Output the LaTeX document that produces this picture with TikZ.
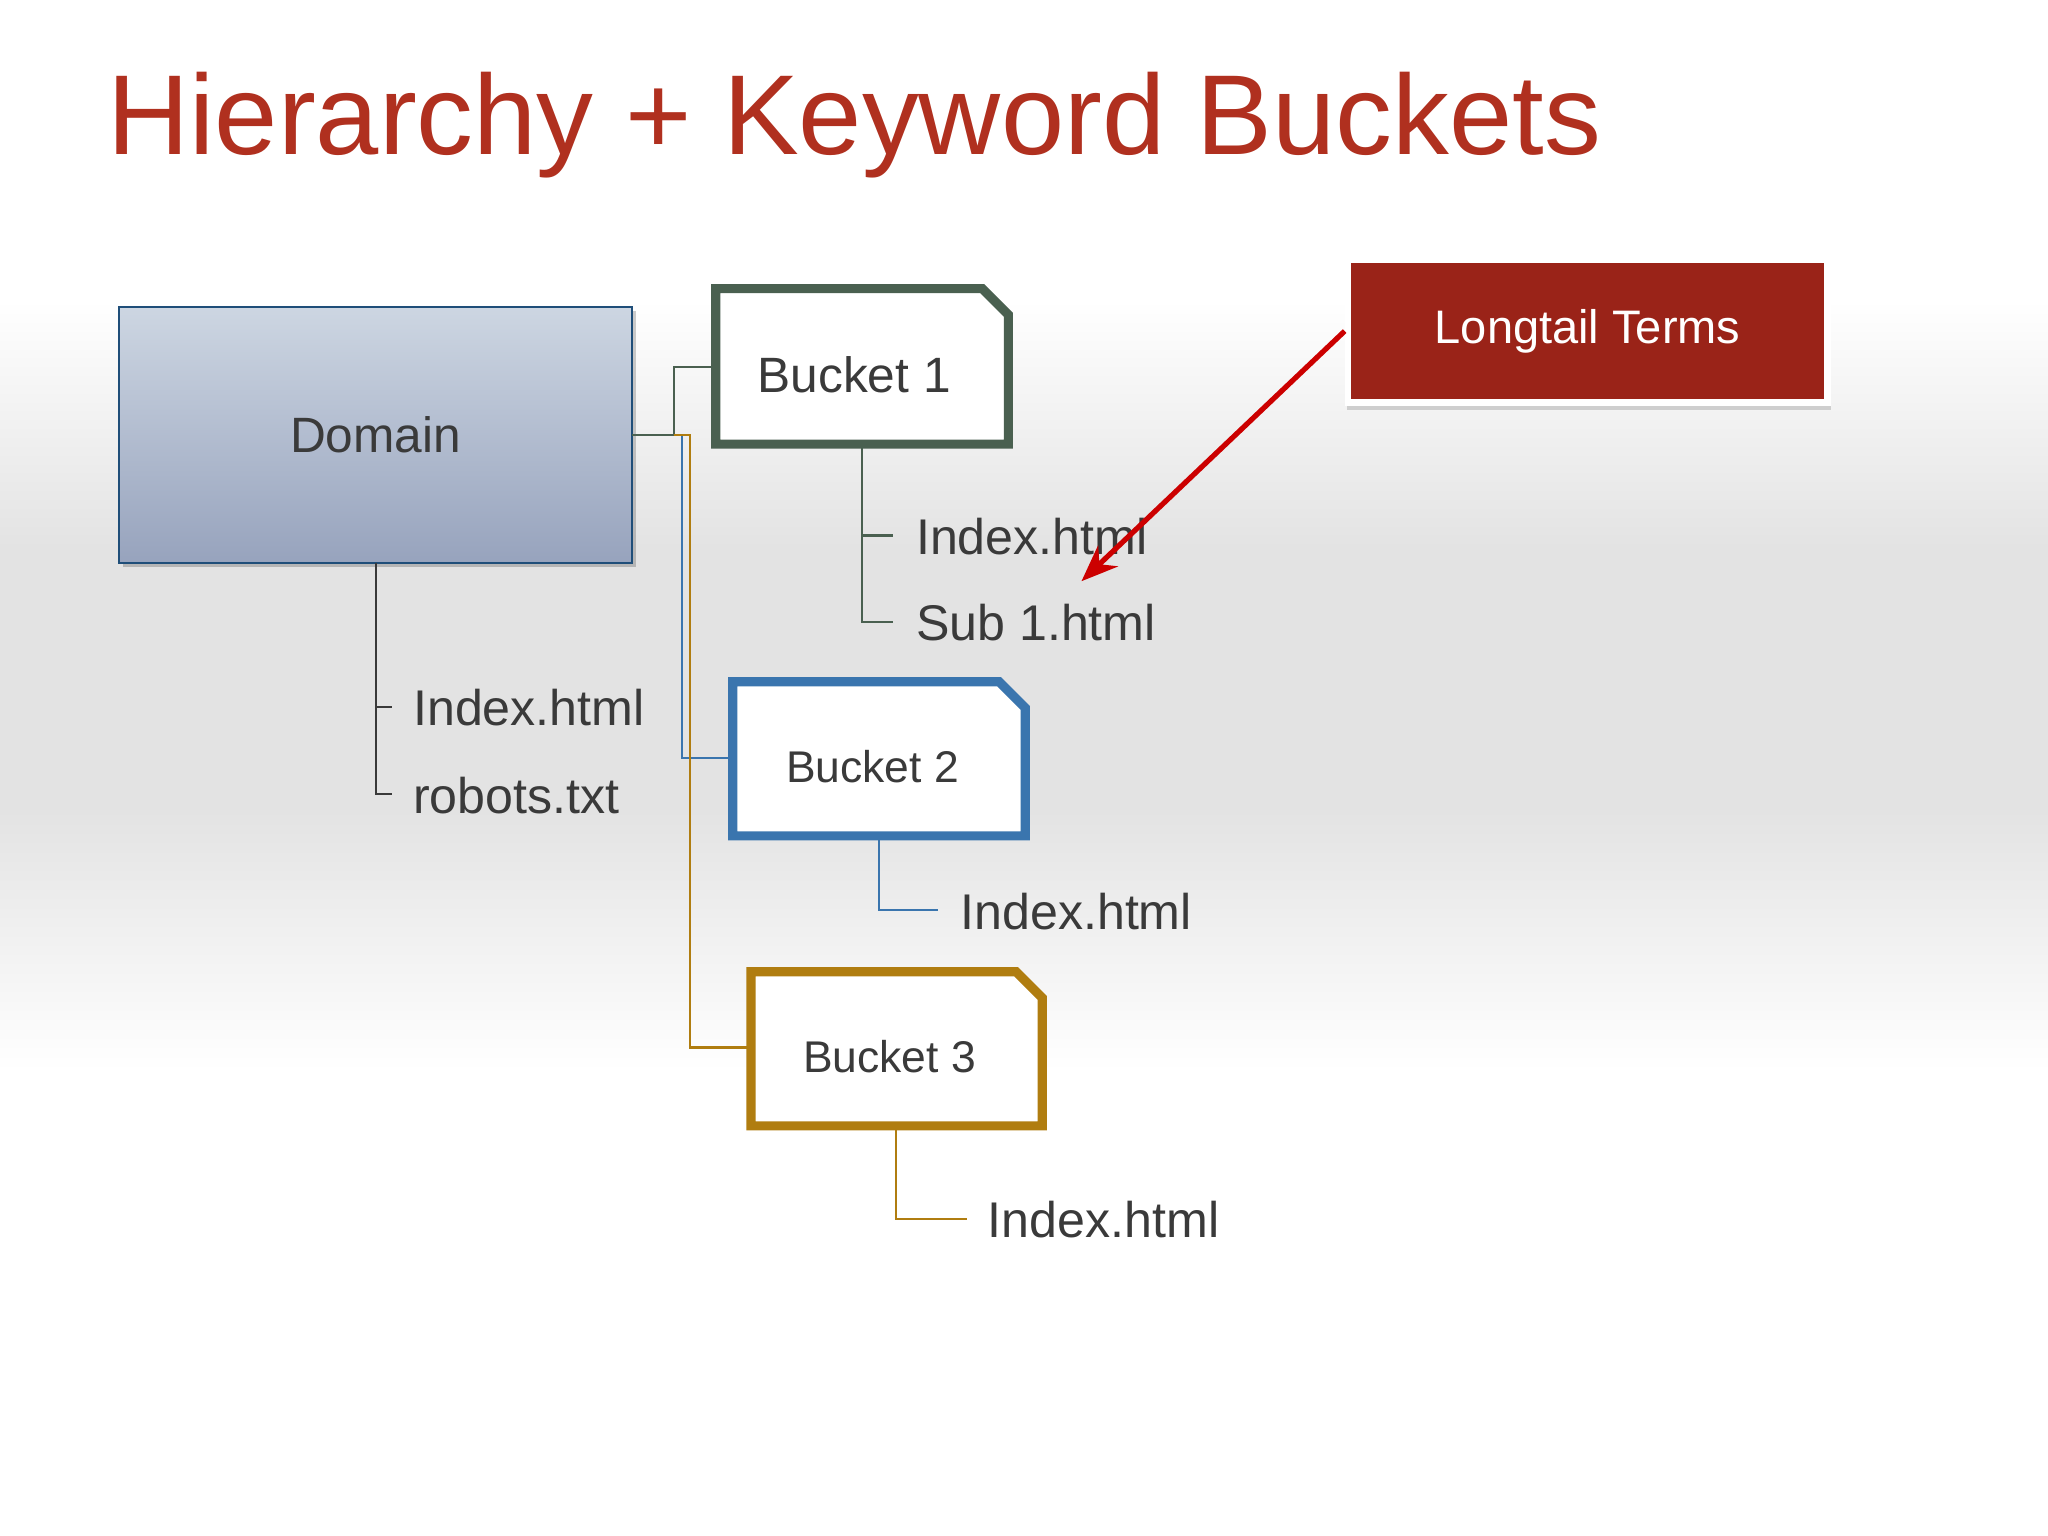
\documentclass[tikz,border=0pt]{standalone}
\usepackage{fontspec}
\setmainfont{Liberation Sans}
\usetikzlibrary{arrows.meta,shadows}
\definecolor{titred}{HTML}{B0301F}
\definecolor{txt}{HTML}{3A3A3A}
\definecolor{gB}{HTML}{4A6050}
\definecolor{bB}{HTML}{3A75AE}
\definecolor{oB}{HTML}{B07D10}
\definecolor{dblue}{HTML}{1F4E79}
\definecolor{lred}{HTML}{9A2318}
\definecolor{domtop}{HTML}{CDD6E2}
\definecolor{dombot}{HTML}{97A3BD}
\begin{document}
\begin{tikzpicture}[x=0.5pt,y=-0.5pt,
  lbl/.style={anchor=west,text=txt,font=\fontsize{19.2}{22}\selectfont,inner sep=0},
  bkt/.style={line width=3.5pt,fill=white},
  btxt/.style={text=txt,font=\fontsize{17}{20}\selectfont}]
\useasboundingbox (0,0) rectangle (1568,1176);
\shade[top color=white,bottom color=black!11] (0,230) rectangle (1568,420);
\fill[black!11] (0,420) rectangle (1568,620);
\shade[top color=black!11,bottom color=white] (0,620) rectangle (1568,820);
\node[anchor=base west,text=titred,font=\fontsize{43.5}{50}\selectfont,inner sep=0] (title) at (82,118) {Hierarchy + Keyword Buckets};
% Domain
\fill[black,opacity=0.2] (94,238) rectangle (487,434);
\shade[top color=domtop,bottom color=dombot] (91,235) rectangle (484,431);
\draw[dblue,line width=1pt] (91,235) rectangle (484,431);
\node[btxt,font=\fontsize{19}{22}\selectfont] (dom) at (287.5,333) {Domain};
\coordinate (dR) at (484,333);
\coordinate (dB) at (288,431);
% buckets
\draw[bkt,draw=gB] (548,221) -- (752,221) -- (772,241) -- (772,340) -- (548,340) -- cycle;
\node[btxt,font=\fontsize{19}{22}\selectfont] (b1) at (654,287) {Bucket 1};
\draw[bkt,draw=bB] (561,522) -- (765,522) -- (785,542) -- (785,640) -- (561,640) -- cycle;
\node[btxt] (b2) at (668,587) {Bucket 2};
\draw[bkt,draw=oB] (575,744) -- (778,744) -- (798,764) -- (798,862) -- (575,862) -- cycle;
\node[btxt] (b3) at (681,809) {Bucket 3};
% connectors from domain
\draw[gB,line width=0.8pt] (dR) -- (516,333) |- (546,281);
\draw[bB,line width=0.8pt] (522,333) |- (559,580);
\draw[oB,line width=0.8pt] (516,333) -- (528,333) |- (573,802);
% domain children
\draw[txt,line width=0.8pt] (dB) |- (300,608);
\draw[txt,line width=0.8pt] (288,541) -- (300,541);
\node[lbl] (di) at (316,542) {Index.html};
\node[lbl] (dr) at (316,609) {robots.txt};
% bucket1 children
\draw[gB,line width=0.8pt] (660,342) |- (684,476);
\draw[gB,line width=0.8pt] (660,410) -- (684,410);
\node[lbl] (b1i) at (701,411) {Index.html};
\node[lbl] (b1s) at (701,477) {Sub 1.html};
\draw[bB,line width=0.8pt] (673,642) |- (718,697);
\node[lbl] (b2i) at (735,698) {Index.html};
\draw[oB,line width=0.8pt] (686,864) |- (740,933);
\node[lbl] (b3i) at (756,934) {Index.html};
% longtail
\fill[black,opacity=0.15] (1031,203) rectangle (1402,314);
\node[draw=white,line width=2.5pt,fill=lred,minimum width=183.5pt,minimum height=54.5pt,inner sep=0,text=white,font=\fontsize{18}{21}\selectfont] (lt) at (1215.5,253.5) {Longtail Terms};
\coordinate (tip) at (828,445);
\draw[-{Stealth[length=14pt,width=11pt]},red!80!black,line width=2pt] (lt.west) -- (tip);
\end{tikzpicture}
\end{document}
